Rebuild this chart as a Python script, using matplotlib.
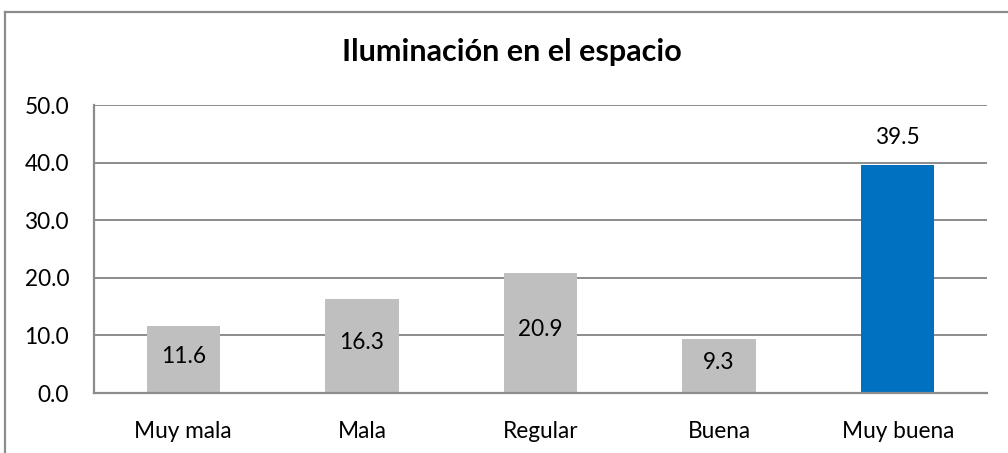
import matplotlib
matplotlib.use("Agg")
import matplotlib.pyplot as plt
from matplotlib.lines import Line2D

categories = ["Muy mala", "Mala", "Regular", "Buena", "Muy buena"]
values = [11.6, 16.3, 20.9, 9.3, 39.5]
colors = ["#BFBFBF", "#BFBFBF", "#BFBFBF", "#BFBFBF", "#0070C0"]
yticks = [0, 10, 20, 30, 40, 50]
title = "Iluminación en el espacio"

plt.rcParams['font.family'] = ['Lato', 'DejaVu Sans']

W, H = 1008, 453
fs = 16.3
fig = plt.figure(figsize=(W / 100, H / 100), dpi=100)
ax = fig.add_axes([94 / W, 1 - 393 / H, (987 - 94) / W, (393 - 105) / H])

x = list(range(len(categories)))
bars = ax.bar(x, values, width=0.41, color=colors, zorder=3)

ax.set_xlim(-0.5, len(categories) - 0.5)
ax.set_ylim(0, 50)
ax.set_yticks(yticks)
ax.set_yticklabels([f"{v:.1f}" for v in yticks], fontsize=fs, color="#000000")
ax.set_xticks(x)
ax.set_xticklabels(categories, fontsize=fs, color="#000000")
ax.tick_params(axis="y", length=0, pad=18)
ax.tick_params(axis="x", length=0, pad=20.5)

gc = "#8C8C8C"
ax.grid(axis="y", color=gc, linewidth=1.4, zorder=0)
ax.set_axisbelow(True)
for s in ["top", "right"]:
    ax.spines[s].set_visible(False)
for s in ["left", "bottom"]:
    ax.spines[s].set_color(gc)
    ax.spines[s].set_linewidth(1.6)
    ax.spines[s].set_zorder(4)

for i, v in enumerate(values):
    if i == len(values) - 1:
        ax.text(i, v + 4.9, f"{v:.1f}", ha="center", va="center", fontsize=fs, zorder=5)
    else:
        ax.text(i, v / 2 + 0.6, f"{v:.1f}", ha="center", va="center", fontsize=fs, zorder=5)

fig.text(512 / W, 1 - 52 / H, title, ha="center", va="center", fontsize=22, fontweight="bold")

# outer chart border (partially visible)
fig.add_artist(Line2D([5 / W, 1.0], [1 - 12 / H, 1 - 12 / H], color="#8C8C8C", linewidth=1.6, transform=fig.transFigure))
fig.add_artist(Line2D([5 / W, 5 / W], [0.0, 1 - 12 / H], color="#8C8C8C", linewidth=1.6, transform=fig.transFigure))

fig.savefig("out.png", dpi=100)
